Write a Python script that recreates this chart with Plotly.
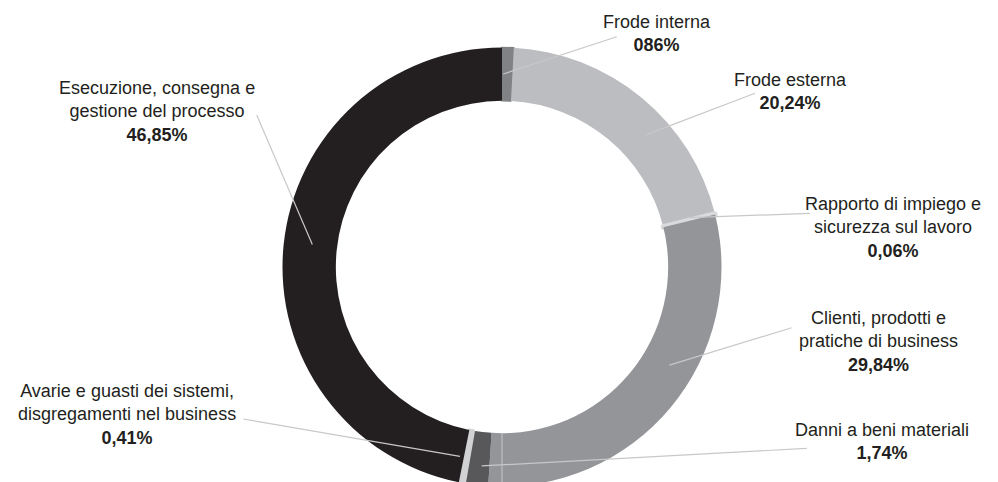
import math
import plotly.graph_objects as go

# ---- data ----
categories = [
    "Frode interna",
    "Frode esterna",
    "Rapporto di impiego e sicurezza sul lavoro",
    "Clienti, prodotti e pratiche di business",
    "Danni a beni materiali",
    "Avarie e guasti dei sistemi, disgregamenti nel business",
    "Esecuzione, consegna e gestione del processo",
]
values = [0.86, 20.24, 0.06, 29.84, 1.74, 0.41, 46.85]
label_lines = [
    "Frode interna",
    "Frode esterna",
    "Rapporto di impiego e<br>sicurezza sul lavoro",
    "Clienti, prodotti e<br>pratiche di business",
    "Danni a beni materiali",
    "Avarie e guasti dei sistemi,<br>disgregamenti nel business",
    "Esecuzione, consegna e<br>gestione del processo",
]
pct_labels = ["086%", "20,24%", "0,06%", "29,84%", "1,74%", "0,41%", "46,85%"]

# ---- style ----
colors = ["#818285", "#bcbdc0", "#d9dadc", "#949598", "#58585a", "#d1d2d4", "#231f20"]
slice_line_w = [1.5, 0, 5, 0, 0, 3, 0]
W, H = 998, 490
CX, CY, R = 502, 267, 219.5
HOLE = 0.757
TEXT = "#231f20"
LEADER = "#c8c8c9"
FONT = "Liberation Sans, Arial, sans-serif"

label_pos = [(656.7, 33.5), (790.5, 91.5), (893.3, 227.5), (878.3, 341),
             (882, 441.5), (126.7, 414), (156.7, 111)]
leader_end = [(616.7, 36.7), (755, 93.3), (810, 213.3), (791.7, 327.7),
              (806.7, 448.3), (243.3, 419), (256.7, 115)]
leader_shift = [-1.2, 7.8, -0.8, -9.5, -0.9, 1.9, 1.1]
leader_r = [193, 194.6, 194, 194, 200, 194, 191]


def px(x):
    return x / W


def py(y):
    return 1 - y / H


fig = go.Figure()
fig.add_trace(go.Pie(
    labels=categories,
    values=values,
    sort=False,
    direction="clockwise",
    rotation=0,
    hole=HOLE,
    textinfo="none",
    hoverinfo="label+percent",
    showlegend=False,
    marker=dict(colors=colors, line=dict(color=colors, width=slice_line_w)),
    domain=dict(x=[px(CX - R), px(CX + R)], y=[py(CY + R), py(CY - R)]),
))

total = sum(values)
cum = 0.0
shapes = []
annotations = []
for i, v in enumerate(values):
    mid = (cum + v / 2) / total * 360 + leader_shift[i]
    cum += v
    a = math.radians(mid)
    x0 = CX + leader_r[i] * math.sin(a)
    y0 = CY - leader_r[i] * math.cos(a)
    x1, y1 = leader_end[i]
    shapes.append(dict(type="line", xref="paper", yref="paper",
                       x0=px(x0), y0=py(y0), x1=px(x1), y1=py(y1),
                       line=dict(color=LEADER, width=1.2)))
    lx, ly = label_pos[i]
    annotations.append(dict(
        x=px(lx), y=py(ly), xref="paper", yref="paper",
        xanchor="center", yanchor="middle", align="center", showarrow=False,
        text=f"{label_lines[i]}<br><b>{pct_labels[i]}</b>",
        font=dict(family=FONT, size=18, color=TEXT),
    ))

# thin vertical guide at the bottom of the ring
shapes.append(dict(type="line", xref="paper", yref="paper",
                   x0=px(CX), y0=py(CY + R * HOLE), x1=px(CX), y1=py(CY + R + 5),
                   line=dict(color="#c6c7c9", width=1)))

fig.update_layout(
    width=W, height=H,
    margin=dict(l=0, r=0, t=0, b=0),
    paper_bgcolor="white", plot_bgcolor="white",
    shapes=shapes, annotations=annotations,
)

fig.write_html(
    "out.html",
    post_script="document.documentElement.style.overflow='hidden';document.body.style.overflow='hidden';document.body.style.margin='0';",
)
